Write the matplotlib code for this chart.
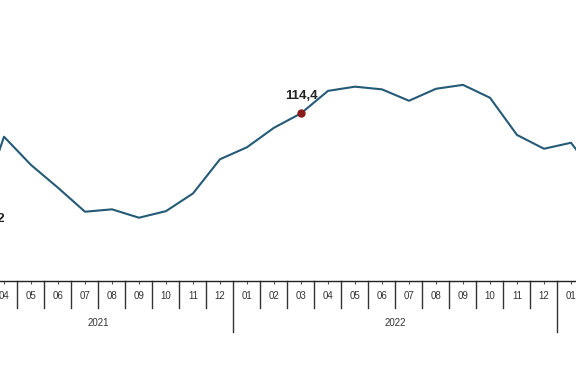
import matplotlib
matplotlib.use("Agg")
import matplotlib.pyplot as plt
import matplotlib.transforms as mtransforms

plt.rcParams['font.family'] = ['Liberation Sans', 'DejaVu Sans']

months = ["03", "04", "05", "06", "07", "08", "09", "10", "11", "12",
          "01", "02", "03", "04", "05", "06", "07", "08", "09", "10", "11", "12",
          "01", "02"]
years = ["2021"] * 10 + ["2022"] * 12 + ["2023"] * 2
values = [80.2, 106.6, 97.2, 89.6, 81.6, 82.4, 79.6, 81.8, 87.7, 99.1,
          103.1, 109.6, 114.4, 121.9, 123.3, 122.4, 118.6, 122.6, 123.9, 119.6, 107.2, 102.6,
          104.6, 92.8]
labels = {0: "80,2", 12: "114,4"}
year_labels = ["2021", "2022"]

fig = plt.figure(figsize=(5.76, 3.75), dpi=100)
ax = fig.add_axes([0, 94 / 375, 1, 281 / 375])

x = list(range(len(values)))
line_color = "#245a76"
ax.plot(x, values, color=line_color, lw=1.5, zorder=3)
for k in labels:
    ax.plot([k], [values[k]], 'o', color="#8b1a1a", ms=5, zorder=4)

for s in ["top", "right", "left"]:
    ax.spines[s].set_visible(False)
ax.spines["bottom"].set_color("#222222")
ax.spines["bottom"].set_linewidth(1.0)
ax.set_yticks([])
ax.set_xticks(x)
ax.set_xticklabels([])
ax.tick_params(axis='x', length=2, width=0.8, color="#555555", direction='out')

ax.set_xlim(23 / 27, 599 / 27)
ax.set_ylim(58.5, 152.2)

trans = mtransforms.blended_transform_factory(ax.transData, ax.transAxes)
# month labels and separators
for k, m in enumerate(months):
    if 1 <= k <= 22:
        ax.text(k, -0.053, m, transform=trans, ha='center', va='center',
                fontsize=7, color="#333333", clip_on=False)
for k in range(len(months) + 1):
    xs = k - 0.5
    if 0 < k < len(months) and years[k] != years[k - 1]:
        y_end = -0.1815
    else:
        y_end = -0.096
    ax.plot([xs, xs], [0, y_end], transform=trans, color="#333333", lw=1.0,
            clip_on=False)

# year labels
for y in year_labels:
    idx = [k for k, yy in enumerate(years) if yy == y]
    ax.text((idx[0] + idx[-1]) / 2, -0.149, y, transform=trans, ha='center',
            va='center', fontsize=7, color="#333333", clip_on=False)

# value labels
ax.annotate(labels[12], (12, values[12]), xytext=(0, 8), textcoords='offset points',
            ha='center', va='bottom', fontsize=9.5, fontweight='bold', color="#222222")
ax.annotate(labels[0], (0, values[0]), xytext=(2.2, -2.5), textcoords='offset points',
            ha='left', va='center', fontsize=9.5, fontweight='bold', color="#222222",
            annotation_clip=False)

fig.savefig("out.png", dpi=100)
